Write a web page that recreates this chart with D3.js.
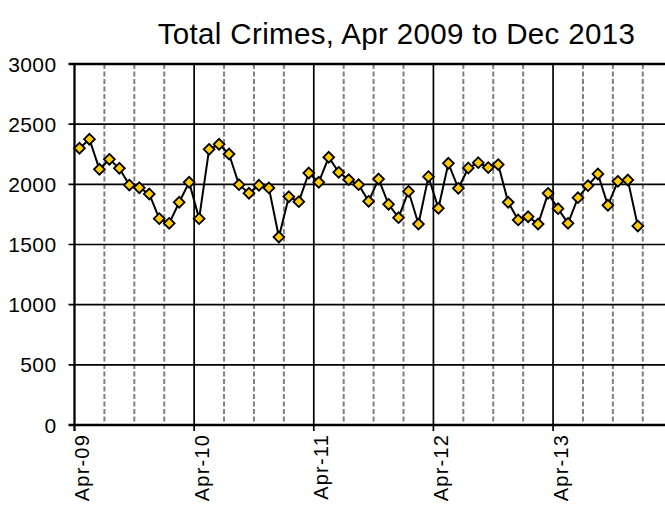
<!DOCTYPE html>
<html>
<head>
<meta charset="utf-8">
<script src="https://cdn.jsdelivr.net/npm/d3@7/dist/d3.min.js"></script>
<style>
  html, body { margin: 0; padding: 0; background: #fff; }
  svg { display: block; font-family: "Liberation Sans", Arial, sans-serif; }
</style>
</head>
<body>
<svg id="chart" width="665" height="505"></svg>
<script>
// ---- Data ----
const title = "Total Crimes, Apr 2009 to Dec 2013";
const values2009 = [2300, 2375, 2125, 2208, 2133, 1994, 1972, 1920, 1715];            // Apr-Dec 2009
const values2010 = [1676, 1851, 2017, 1715, 2291, 2333, 2252, 1997, 1926, 1992, 1970, 1562];
const values2011 = [1897, 1856, 2094, 2017, 2225, 2100, 2039, 1997, 1859, 2044, 1834, 1723];
const values2012 = [1942, 1670, 2064, 1801, 2175, 1967, 2136, 2180, 2139, 2164, 1851, 1704];
const values2013 = [1731, 1670, 1925, 1798, 1676, 1889, 1989, 2086, 1826, 2025, 2036, 1654];
const yTicks = [0, 500, 1000, 1500, 2000, 2500, 3000];
const xTickLabels = ["Apr-09", "Apr-10", "Apr-11", "Apr-12", "Apr-13"];
const axisMonths = 60; // category slots on the axis (Apr-09 .. Mar-14)

const values = [].concat(values2009, values2010, values2011, values2012, values2013);
const data = values.map((v, i) => ({ i, v }));

// ---- Layout ----
const W = 665, H = 505;
const mLeft = 74.5, mTop = 64, mBottom = 425;
const monthW = 9.97;
const svg = d3.select("#chart");

const x = d3.scaleLinear().domain([0, axisMonths]).range([mLeft, mLeft + axisMonths * monthW]);
const y = d3.scaleLinear().domain([0, 3000]).range([mBottom, mTop]);
const rightEdge = W;

// Title
svg.append("text")
  .attr("x", 396.5).attr("y", 44)
  .attr("text-anchor", "middle")
  .attr("font-size", 29.5)
  .attr("letter-spacing", 0.35)
  .attr("fill", "#000")
  .text(title);

// Vertical gridlines (quarterly dashed, yearly solid)
const quarterIdx = d3.range(0, axisMonths + 1, 3).filter(i => x(i) <= rightEdge);
svg.append("g").selectAll("line")
  .data(quarterIdx.filter(i => i % 12 !== 0))
  .join("line")
  .attr("x1", d => x(d)).attr("x2", d => x(d))
  .attr("y1", mTop).attr("y2", mBottom)
  .attr("stroke", "#808080")
  .attr("stroke-width", 2)
  .attr("stroke-dasharray", "5,2.5");

svg.append("g").selectAll("line")
  .data(quarterIdx.filter(i => i % 12 === 0 && i > 0))
  .join("line")
  .attr("x1", d => x(d)).attr("x2", d => x(d))
  .attr("y1", mTop).attr("y2", mBottom + 6)
  .attr("stroke", "#000")
  .attr("stroke-width", 1.7);

// Horizontal gridlines
svg.append("g").selectAll("line")
  .data(yTicks)
  .join("line")
  .attr("x1", mLeft - 6).attr("x2", rightEdge)
  .attr("y1", d => y(d)).attr("y2", d => y(d))
  .attr("stroke", "#000")
  .attr("stroke-width", d => (d === 0 || d === 3000) ? 2.3 : 1.7);

// Left axis line + first tick
svg.append("line")
  .attr("x1", mLeft).attr("x2", mLeft)
  .attr("y1", mTop - 1).attr("y2", mBottom + 6)
  .attr("stroke", "#000").attr("stroke-width", 2.3);

// Y tick labels
svg.append("g").selectAll("text")
  .data(yTicks)
  .join("text")
  .attr("x", 56.5).attr("y", d => y(d))
  .attr("dy", "0.36em")
  .attr("text-anchor", "end")
  .attr("font-size", 21)
  .attr("letter-spacing", 0.4)
  .attr("fill", "#000")
  .text(d => d);

// X tick labels (rotated)
svg.append("g").selectAll("text")
  .data(xTickLabels)
  .join("text")
  .attr("transform", (d, k) => `translate(${x(k * 12) + 7.5},434) rotate(-90)`)
  .attr("dy", "0.36em")
  .attr("text-anchor", "end")
  .attr("font-size", 20)
  .attr("letter-spacing", 1.2)
  .attr("fill", "#000")
  .text(d => d);

// Data line
const line = d3.line()
  .x(d => x(d.i + 0.5))
  .y(d => y(d.v));
svg.append("path")
  .datum(data)
  .attr("d", line)
  .attr("fill", "none")
  .attr("stroke", "#000")
  .attr("stroke-width", 2);

// Diamond markers
const r = 5.4;
svg.append("g").selectAll("path")
  .data(data)
  .join("path")
  .attr("d", d => {
    const cx = x(d.i + 0.5), cy = y(d.v);
    return `M${cx},${cy - r}L${cx + r},${cy}L${cx},${cy + r}L${cx - r},${cy}Z`;
  })
  .attr("fill", "#FFCC00")
  .attr("stroke", "#000")
  .attr("stroke-width", 1.8);
</script>
</body>
</html>
